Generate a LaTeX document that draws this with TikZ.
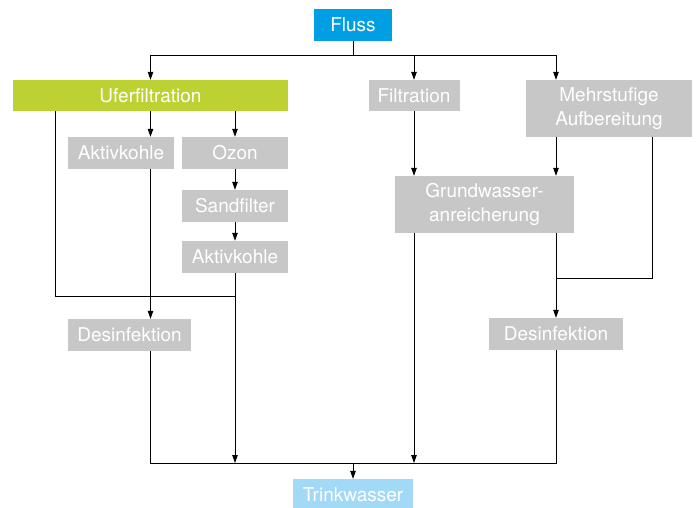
\documentclass[tikz,border=0pt]{standalone}
\usepackage{fontspec}
\setmainfont{TeX Gyre Heros}
\usepackage{tikz}
\usetikzlibrary{arrows.meta,positioning}

\definecolor{flussblue}{HTML}{009EE2}
\definecolor{uferGreen}{HTML}{BDD232}
\definecolor{boxgray}{HTML}{C6C7C6}
\definecolor{trinkblue}{HTML}{A1D9F7}

\begin{document}
\begin{tikzpicture}[x=1pt,y=-1pt]
		\tikzset{box style/.style={rectangle,
				inner sep=0pt,
				text=white,
				align=center,
				font=\fontsize{19}{24}\selectfont,
				fill=boxgray},
			flow/.style={draw=black,line width=0.8pt},
			arr/.style={flow,-{Triangle[length=8pt,width=5.5pt]}}}
		\useasboundingbox (0,0) rectangle (697,508);

		% Draw the boxes
		\node[box style,fill=flussblue,minimum width=78,minimum height=32] at (353,25) (fluss) {Fluss};
		\node[box style,fill=uferGreen,minimum width=275,minimum height=31] at (150.5,95.5) (ufer) {Uferfiltration};
		\node[box style,minimum width=91,minimum height=31] at (414,95.5) (filt) {Filtration};
		\node[box style,minimum width=166,minimum height=57] at (609,108.5) (mehr) {Mehrstufige\\Aufbereitung};
		\node[box style,minimum width=106,minimum height=32] at (121,153) (akt1) {Aktivkohle};
		\node[box style,minimum width=106,minimum height=32] at (235,153) (ozon) {Ozon};
		\node[box style,minimum width=106,minimum height=32] at (235,206) (sand) {Sandfilter};
		\node[box style,minimum width=106,minimum height=32] at (235,257) (akt2) {Aktivkohle};
		\node[box style,minimum width=179,minimum height=57] at (484.5,204.5) (grund) {Grundwasser-\\anreicherung};
		\node[box style,minimum width=123,minimum height=32] at (129.5,335) (des1) {Desinfektion};
		\node[box style,minimum width=134,minimum height=32] at (556,334) (des2) {Desinfektion};
		\node[box style,fill=trinkblue,minimum width=120,minimum height=32] at (353,495) (trink) {Trinkwasser};

		% Junctions
		\coordinate (top) at (353,55);
		\coordinate (bus) at (353,463);
		\coordinate (r) at (556,0);
		\coordinate (lj) at (55,296);
		\coordinate (rj) at (652,278);

		% Connect the boxes
		\draw[flow] (fluss) -- (top);
		\draw[arr] (top) -| (ufer.north);
		\draw[arr] (top) -| (filt.north);
		\draw[arr] (top) -| (mehr.north -| r);
		\draw[arr] (ufer.south) -- (ufer.south |- akt1.north);
		\draw[arr] (ozon.north |- ufer.south) -- (ozon.north);
		\draw[arr] (ozon) -- (sand);
		\draw[arr] (sand) -- (akt2);
		\draw[flow] (ufer.south -| lj) -- (lj) -- (lj -| akt2);
		\draw[arr] (akt1.south -| ufer) -- (des1.north -| ufer);
		\draw[arr] (akt2) -- (akt2 |- bus);
		\draw[arr] (filt) -- (grund.north -| filt);
		\draw[arr] (mehr.south -| r) -- (grund.north -| r);
		\draw[arr] (grund.south -| filt) -- (bus -| filt);
		\draw[arr] (grund.south -| r) -- (des2.north);
		\draw[flow] (mehr.south -| rj) -- (rj) -- (rj -| des2);
		\draw[flow] (des1.south -| ufer) |- (bus -| des2) -- (des2.south);
		\draw[arr] (bus) -- (trink);

		\end{tikzpicture}
\end{document}
